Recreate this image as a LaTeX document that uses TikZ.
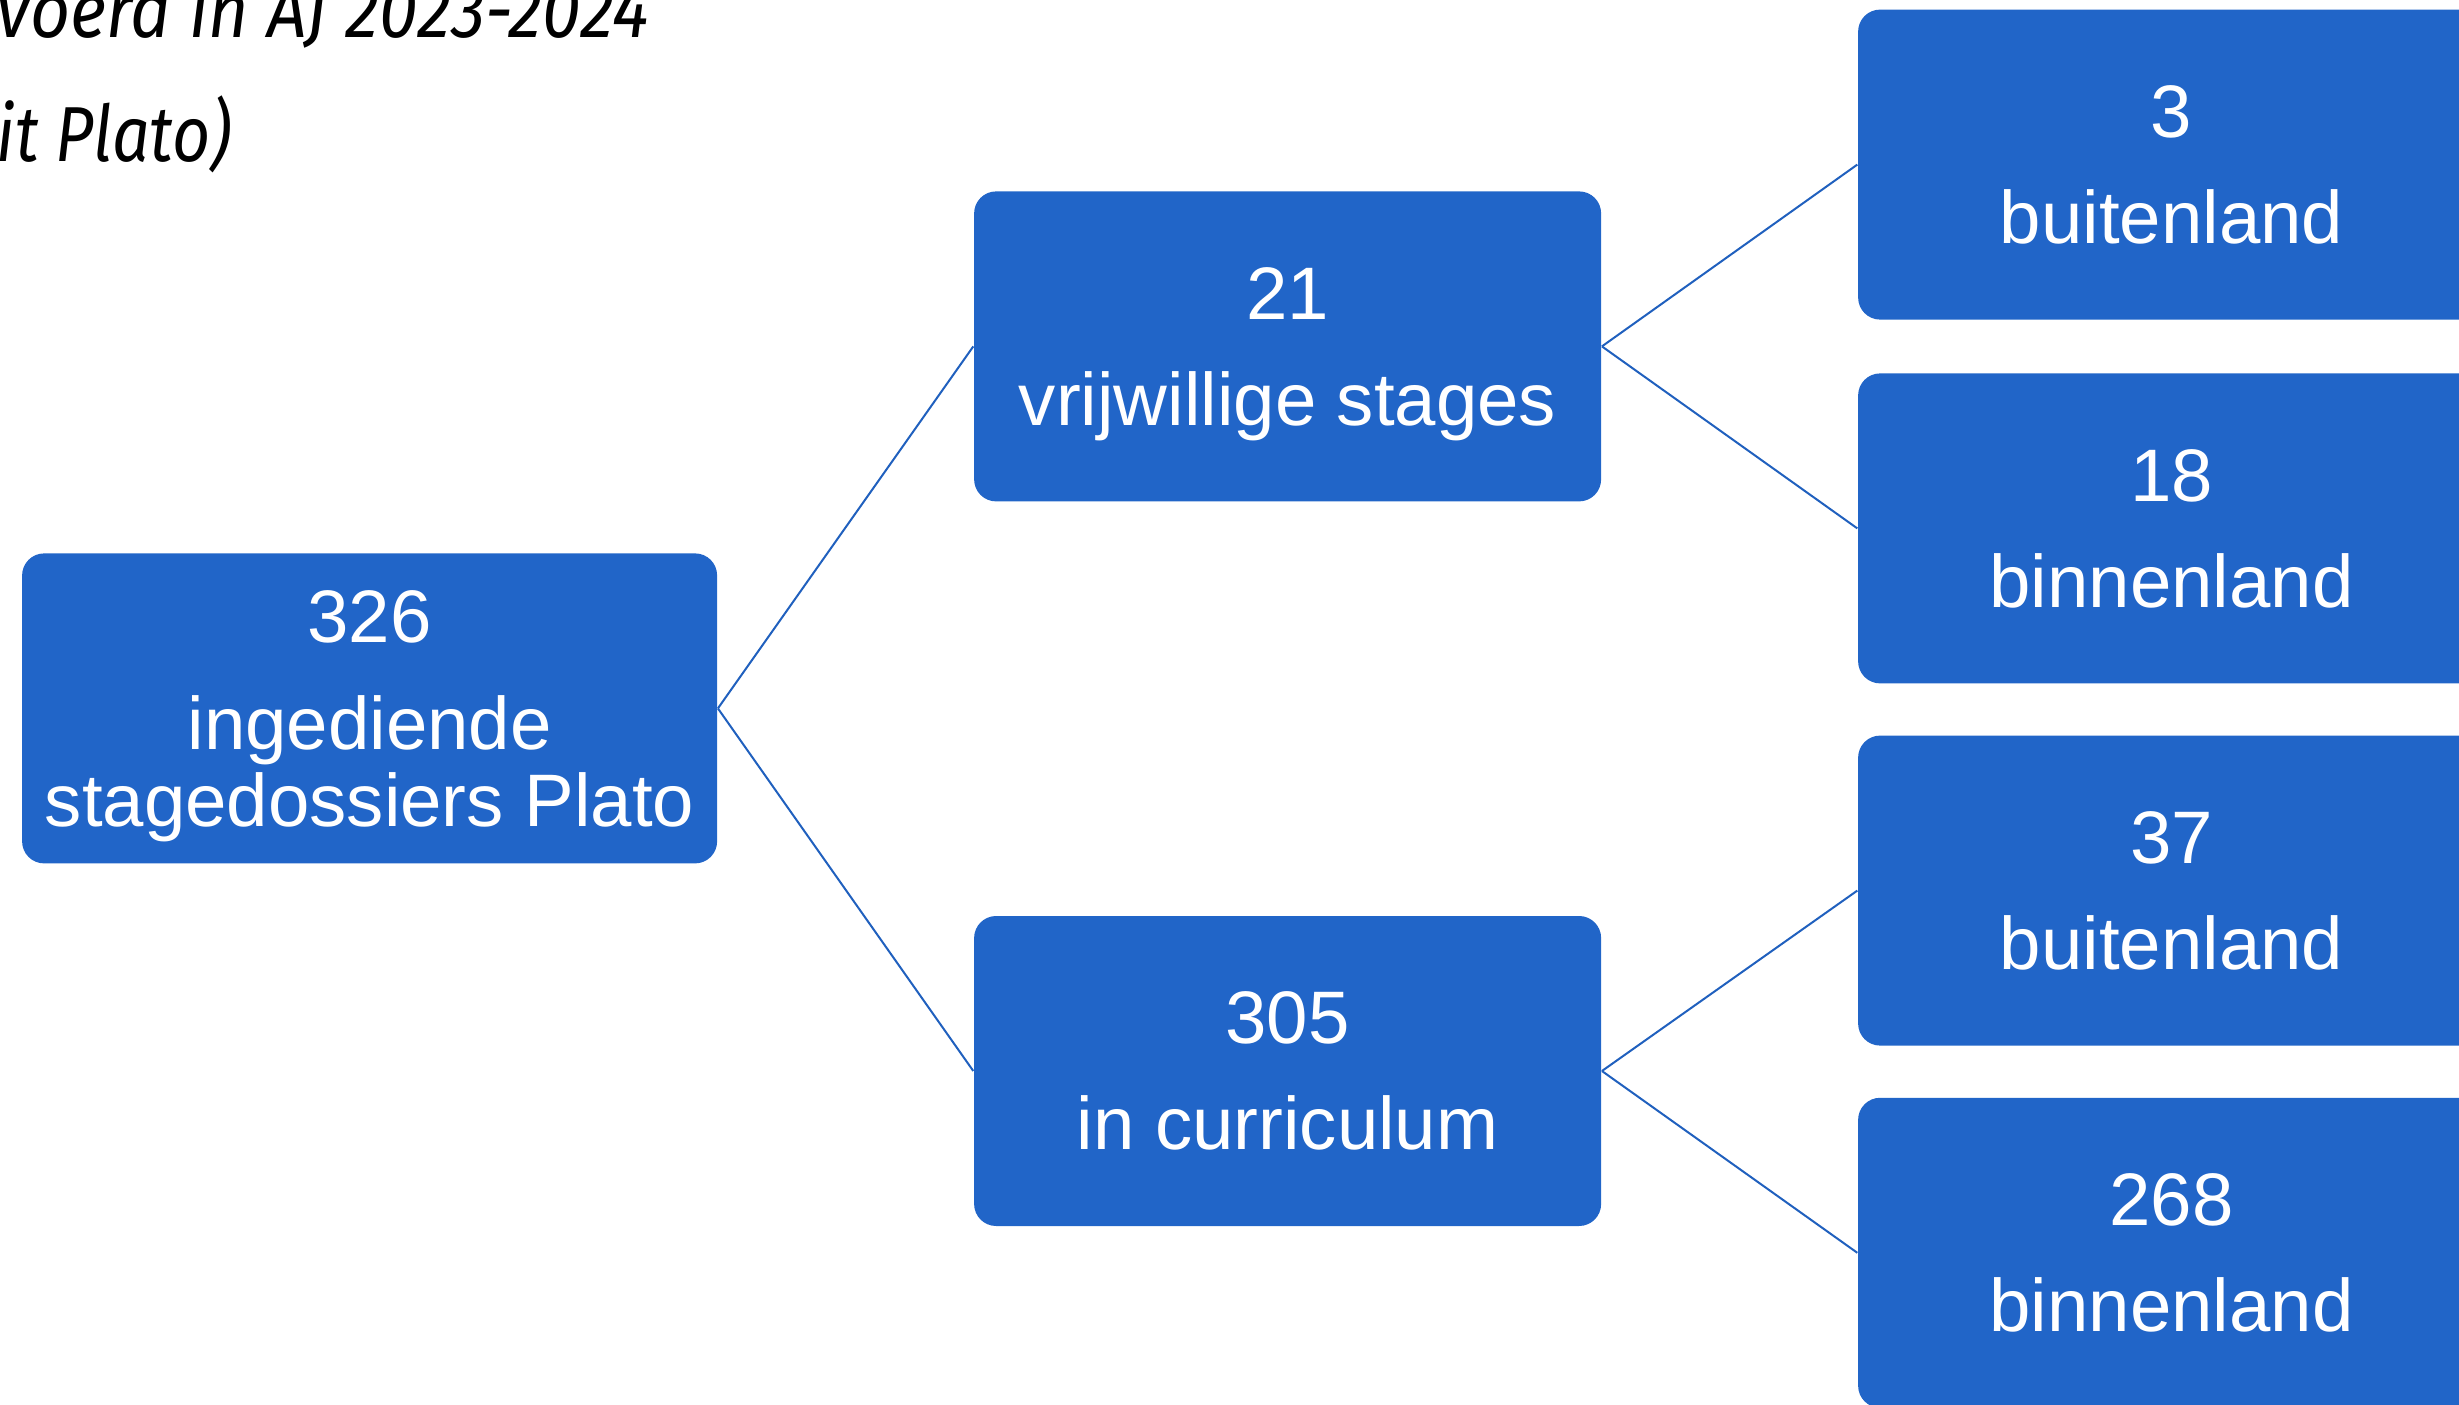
\documentclass[tikz,border=0pt]{standalone}
\usepackage{fontspec}
\setmainfont{Liberation Sans}
\newfontfamily\titlefont{Fira Sans}[FakeStretch=0.85]
\definecolor{boxblue}{HTML}{2165C8}
\definecolor{lineblue}{HTML}{2060BE}
\tikzset{
  box/.style={draw=none, fill=boxblue, rounded corners=5.5pt, text=white,
    align=center, inner sep=0pt, text depth=0pt,
    font=\fontsize{18.6}{19.25}\selectfont,
    minimum height=77.5pt, minimum width=156.75pt},
  rootbox/.style={box, minimum width=173.75pt},
  link/.style={draw=lineblue, line width=0.5pt},
  title/.style={font=\titlefont\itshape\fontsize{19.5}{21}\selectfont, inner sep=0pt}
}
\begin{document}
\begin{tikzpicture}[x=1pt,y=1pt]
\useasboundingbox (0,0) rectangle (614.75,351);
\clip (0,0) rectangle (614.75,351);
\node[title, anchor=base east, transform shape, xscale=1.05] (t1) at (162.5,341.5) {voerd in AJ 2023-2024};
\node[title, anchor=base west] (t2) at (-1,310.5) {it Plato)};
\node[rootbox] (root) at (92.4,173.9) {326\\[7.5pt]ingediende\\stagedossiers Plato};
\node[box] (vrij) at (321.9,264.4) {21\\[7.25pt]vrijwillige stages};
\node[box] (curr) at (321.9,83.25) {305\\[7.25pt]in curriculum};
\node[box] (vb) at (542.9,309.85) {3\\[7.25pt]buitenland};
\node[box] (vn) at (542.9,218.9) {18\\[7.25pt]binnenland};
\node[box] (cb) at (542.9,128.35) {37\\[7.25pt]buitenland};
\node[box] (cn) at (542.9,37.8) {268\\[7.25pt]binnenland};
\draw[link] (root.east) -- (vrij.west);
\draw[link] (root.east) -- (curr.west);
\draw[link] (vrij.east) -- (vb.west);
\draw[link] (vrij.east) -- (vn.west);
\draw[link] (curr.east) -- (cb.west);
\draw[link] (curr.east) -- (cn.west);
\end{tikzpicture}
\end{document}
